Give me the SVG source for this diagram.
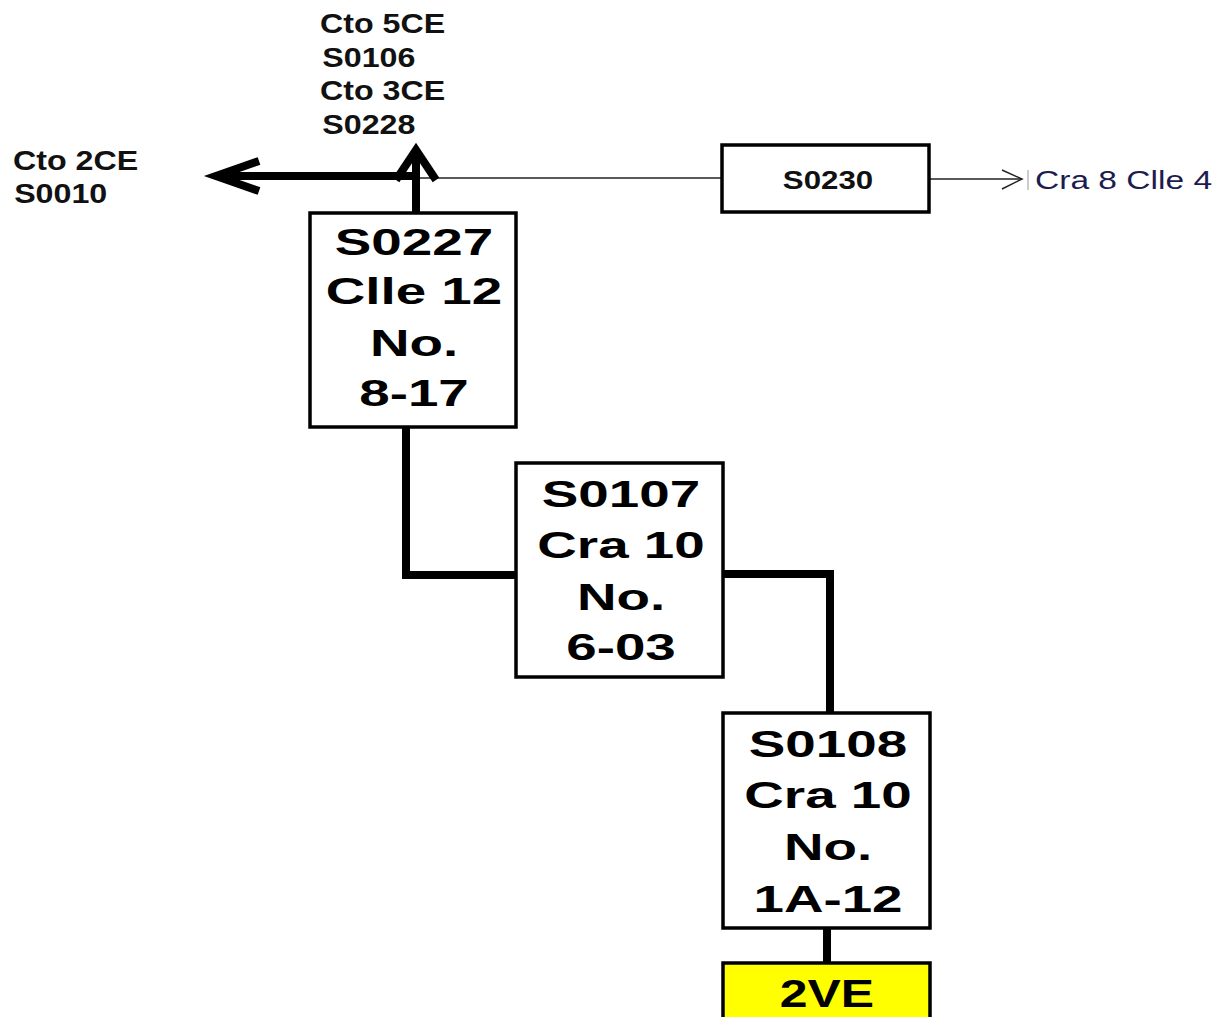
<svg xmlns="http://www.w3.org/2000/svg" width="1228" height="1017" viewBox="0 0 1228 1017">
<style>
.box{fill:#fff;stroke:#000;stroke-width:3.5}
.yel{fill:#ffff00;stroke:#000;stroke-width:3.5}
.thick{fill:none;stroke:#000;stroke-width:8;stroke-linejoin:miter}
.thin{fill:none;stroke:#222;stroke-width:1.5}
.big{font-family:"Liberation Sans",Arial,sans-serif;font-weight:bold;font-size:37px;fill:#000;text-anchor:middle}
.lbl{font-family:"Liberation Sans",Arial,sans-serif;font-weight:bold;font-size:28px;fill:#111}
.mid{font-family:"Liberation Sans",Arial,sans-serif;font-weight:bold;font-size:25px;fill:#111;text-anchor:middle}
.reg{font-family:"Liberation Sans",Arial,sans-serif;font-size:26px;fill:#1c1c4e}
</style>
<rect width="1228" height="1017" fill="#fff"/>
<g id="connectors">
<path class="thin" d="M416 178 H722"/>
<path class="thin" d="M929 179 H1022"/>
<path class="thin" d="M1002 170 L1022 179 L1002 189" stroke="#333"/>
<path d="M1028 170 V190" stroke="#bbb" stroke-width="1.5"/>
<path class="thick" d="M416 176 H216"/>
<path class="thick" d="M259 161 L216 176 L259 191"/>
<path class="thick" d="M416 213 V150"/>
<path class="thick" d="M396 180 L416 150 L436 180"/>
<path class="thick" d="M406 428 V575 H515"/>
<path class="thick" d="M723 574 H830 V713"/>
<path class="thick" d="M827 928 V963"/>
</g>
<g id="top-labels">
<g transform="translate(13,0) scale(1.15,1)">
<text class="lbl" x="0" y="170">Cto 2CE</text>
<text class="lbl" x="1" y="203">S0010</text>
</g>
<g transform="translate(320,0) scale(1.15,1)">
<text class="lbl" x="0" y="33">Cto 5CE</text>
<text class="lbl" x="2" y="67">S0106</text>
<text class="lbl" x="0" y="100">Cto 3CE</text>
<text class="lbl" x="2" y="134">S0228</text>
</g>
</g>
<g id="node-s0230">
<rect class="box" x="722" y="145" width="207" height="67"/>
<g transform="translate(828,0) scale(1.25,1)"><text class="mid" x="0" y="189">S0230</text></g>
</g>
<g id="label-cra8">
<g transform="translate(1035,0) scale(1.29,1)"><text class="reg" x="0" y="189">Cra 8 Clle 4</text></g>
</g>
<g id="node-s0227">
<rect class="box" x="310" y="213" width="206" height="214"/>
<g transform="translate(414,0) scale(1.48,1)">
<text class="big" x="0" y="255">S0227</text>
<text class="big" x="0" y="304">Clle 12</text>
<text class="big" x="0" y="356">No.</text>
<text class="big" x="0" y="406">8-17</text>
</g>
</g>
<g id="node-s0107">
<rect class="box" x="516" y="463" width="207" height="214"/>
<g transform="translate(621,0) scale(1.48,1)">
<text class="big" x="0" y="507">S0107</text>
<text class="big" x="0" y="558">Cra 10</text>
<text class="big" x="0" y="610">No.</text>
<text class="big" x="0" y="660">6-03</text>
</g>
</g>
<g id="node-s0108">
<rect class="box" x="723" y="713" width="207" height="215"/>
<g transform="translate(828,0) scale(1.48,1)">
<text class="big" x="0" y="757">S0108</text>
<text class="big" x="0" y="808">Cra 10</text>
<text class="big" x="0" y="860">No.</text>
<text class="big" x="0" y="912">1A-12</text>
</g>
</g>
<g id="node-2ve">
<rect class="yel" x="723" y="963" width="207" height="70"/>
<g transform="translate(827,0) scale(1.28,1)">
<text class="big" x="0" y="1007" style="font-size:39px">2VE</text>
</g>
</g>
</svg>
